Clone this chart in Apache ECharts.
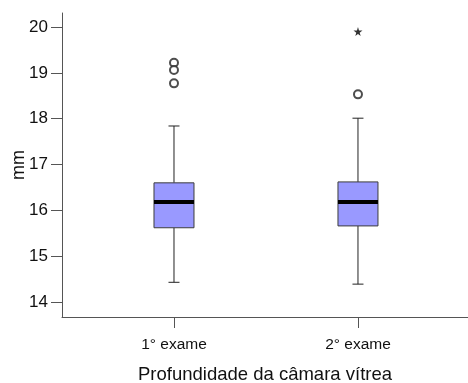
<!DOCTYPE html>
<html>
<head>
<meta charset="utf-8">
<script src="https://cdn.jsdelivr.net/npm/echarts@6/dist/echarts.min.js"></script>
<style>
  html, body { margin: 0; padding: 0; background: #fff; }
  #chart { width: 468px; height: 383px; }
</style>
</head>
<body>
<div id="chart"></div>
<script>
// Exams compared (x positions 0 and 1)
const categories = ['1° exame', '2° exame'];
// Box statistics per exam: [low whisker, Q1, median, Q3, high whisker]
const boxStats = [
  [14.43, 15.62, 16.18, 16.60, 17.84],
  [14.39, 15.66, 16.18, 16.62, 18.01]
];
// Outliers shown as open circles: [exam index, value]
const outliers = [[0, 19.22], [0, 19.06], [0, 18.77], [1, 18.53]];
// Extreme values shown as stars: [exam index, value]
const extremes = [[1, 19.90]];
// Y tick labels
const yTicks = [14, 15, 16, 17, 18, 19, 20];

const FONT = 'Liberation Sans';
const AXIS_COLOR = '#555';
const boxData = boxStats.map((s, i) => [i].concat(s));

function renderBox(params, api) {
  const x = api.value(0);
  const low = api.coord([x, api.value(1)]);
  const q1 = api.coord([x, api.value(2)]);
  const med = api.coord([x, api.value(3)]);
  const q3 = api.coord([x, api.value(4)]);
  const high = api.coord([x, api.value(5)]);
  const cx = low[0];
  const halfBox = 20;
  const halfCap = 5.5;
  const lineStyle = { stroke: '#222', lineWidth: 1 };
  return {
    type: 'group',
    children: [
      { type: 'line', shape: { x1: cx, y1: q3[1], x2: cx, y2: high[1] }, style: lineStyle },
      { type: 'line', shape: { x1: cx, y1: q1[1], x2: cx, y2: low[1] }, style: lineStyle },
      { type: 'line', shape: { x1: cx - halfCap, y1: high[1], x2: cx + halfCap, y2: high[1] }, style: lineStyle },
      { type: 'line', shape: { x1: cx - halfCap, y1: low[1], x2: cx + halfCap, y2: low[1] }, style: lineStyle },
      {
        type: 'rect',
        shape: { x: cx - halfBox, y: q3[1], width: halfBox * 2, height: q1[1] - q3[1] },
        style: { fill: '#9999ff', stroke: '#3c3c3c', lineWidth: 1 }
      },
      { type: 'line', shape: { x1: cx - halfBox, y1: med[1], x2: cx + halfBox, y2: med[1] }, style: { stroke: '#000', lineWidth: 4 } }
    ]
  };
}

const chart = echarts.init(document.getElementById('chart'), null, { renderer: 'canvas' });
chart.setOption({
  animation: false,
  backgroundColor: '#fff',
  grid: { left: 62, right: 0, top: 13, bottom: 66, containLabel: false, outerBoundsMode: 'none' },
  xAxis: {
    type: 'value',
    min: -0.6087,
    max: 1.598,
    splitLine: { show: false },
    axisLine: { show: true, onZero: false, lineStyle: { color: AXIS_COLOR, width: 1 } },
    axisTick: { show: true, length: 11, customValues: [0, 1], lineStyle: { color: AXIS_COLOR } },
    axisLabel: {
      customValues: [0, 1],
      margin: 20,
      formatter: v => categories[Math.round(v)] || '',
      color: '#111', fontFamily: FONT, fontSize: 15.5
    },
    name: 'Profundidade da câmara vítrea',
    nameLocation: 'middle',
    nameGap: 48,
    nameMoveOverlap: false,
    nameTextStyle: { color: '#111', fontFamily: FONT, fontSize: 18.5 }
  },
  yAxis: {
    type: 'value',
    min: 13.673,
    max: 20.305,
    splitLine: { show: false },
    axisLine: { show: true, onZero: false, lineStyle: { color: AXIS_COLOR, width: 1 } },
    axisTick: { show: true, length: 11, customValues: yTicks, lineStyle: { color: AXIS_COLOR } },
    axisLabel: {
      customValues: yTicks,
      margin: 14,
      color: '#111', fontFamily: FONT, fontSize: 17
    },
    name: 'mm',
    nameLocation: 'middle',
    nameGap: 34,
    nameMoveOverlap: false,
    nameTextStyle: { color: '#111', fontFamily: FONT, fontSize: 18 }
  },
  series: [
    {
      type: 'custom',
      renderItem: renderBox,
      encode: { x: 0, y: [1, 2, 3, 4, 5] },
      data: boxData,
      z: 2
    },
    {
      type: 'scatter',
      symbol: 'emptyCircle',
      symbolSize: 8,
      itemStyle: { color: '#222', borderWidth: 1 },
      data: outliers,
      z: 3
    },
    {
      type: 'scatter',
      symbol: 'path://M50,0 L61,35 L98,35 L68,57 L79,91 L50,70 L21,91 L32,57 L2,35 L39,35 Z',
      symbolSize: 9,
      itemStyle: { color: '#000' },
      data: extremes,
      z: 3
    }
  ]
});
</script>
</body>
</html>
